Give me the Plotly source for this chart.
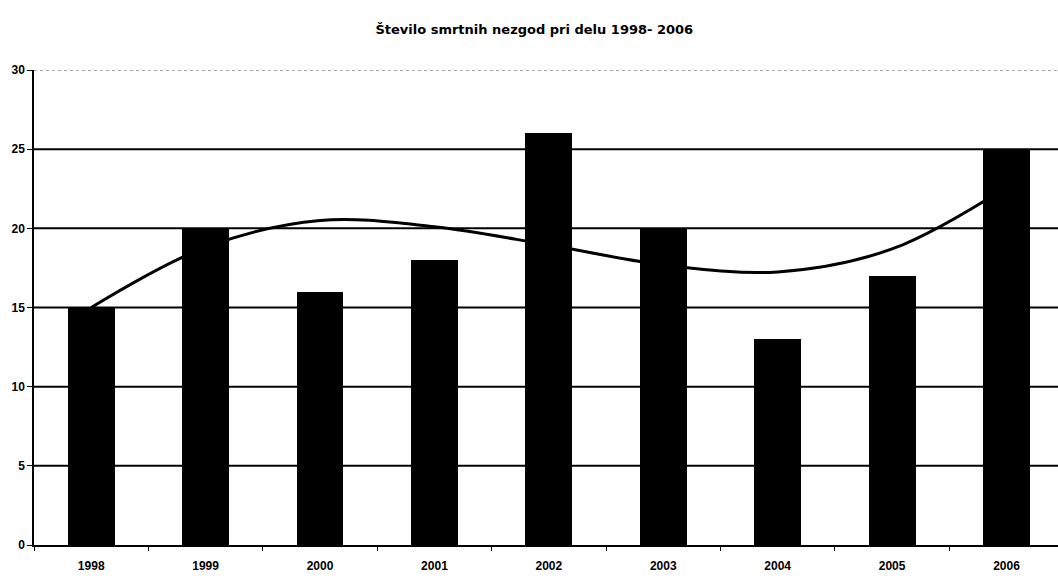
import plotly.graph_objects as go

years = ["1998", "1999", "2000", "2001", "2002", "2003", "2004", "2005", "2006"]
deaths = [15, 20, 16, 18, 26, 20, 13, 17, 25]
trend = [15.0, 18.8, 20.5, 20.1, 18.95, 17.7, 17.25, 18.7, 22.6]
y_ticks = [0, 5, 10, 15, 20, 25, 30]
title_text = "Število smrtnih nezgod pri delu 1998- 2006"

fig = go.Figure()

# trend line on base axes (drawn beneath bars)
fig.add_trace(go.Scatter(
    x=years, y=trend, mode="lines",
    line=dict(color="black", width=3, shape="spline"),
    xaxis="x", yaxis="y", showlegend=False, hoverinfo="skip",
))

# bars on overlaid axes (drawn above the line)
fig.add_trace(go.Bar(
    x=years, y=deaths, marker=dict(color="black", line=dict(width=0)),
    width=0.41, xaxis="x2", yaxis="y2", showlegend=False,
))

shapes = []
for v in y_ticks:
    if v == 0:
        continue
    if v == max(y_ticks):
        shapes.append(dict(type="line", xref="paper", yref="y", x0=0, x1=1, y0=v, y1=v,
                           line=dict(color="#555555", width=1, dash="dot"), layer="below"))
    else:
        shapes.append(dict(type="line", xref="paper", yref="y", x0=0, x1=1, y0=v, y1=v,
                           line=dict(color="black", width=2), layer="below"))

fig.update_layout(
    width=1058, height=579,
    margin=dict(l=34, r=0, t=70, b=34),
    paper_bgcolor="white", plot_bgcolor="white",
    title=dict(text=title_text, x=0.505, xanchor="center", y=1 - 29 / 579, yanchor="middle",
               yref="container",
               font=dict(family="DejaVu Sans", size=13, color="black", weight="bold")),
    xaxis=dict(type="category", range=[-0.5, 8.45], showgrid=False,
               ticks="outside", tickson="boundaries", ticklen=4, tickcolor="black",
               showline=True, linecolor="black", linewidth=1.5,
               ticklabelstandoff=9,
               tickfont=dict(family="Liberation Sans", size=12, color="black", weight="bold"),
               zeroline=False),
    yaxis=dict(range=[0, 30], tickvals=y_ticks, showgrid=False, zeroline=False,
               ticks="outside", ticklen=5, tickcolor="black",
               showline=True, linecolor="black", linewidth=1.5,
               tickfont=dict(family="Liberation Sans", size=12, color="black", weight="bold")),
    xaxis2=dict(type="category", overlaying="x", matches="x", visible=False, anchor="y2"),
    yaxis2=dict(overlaying="y", matches="y", visible=False, anchor="x2"),
    shapes=shapes,
    bargap=0,
)

fig.write_html("out.html")
